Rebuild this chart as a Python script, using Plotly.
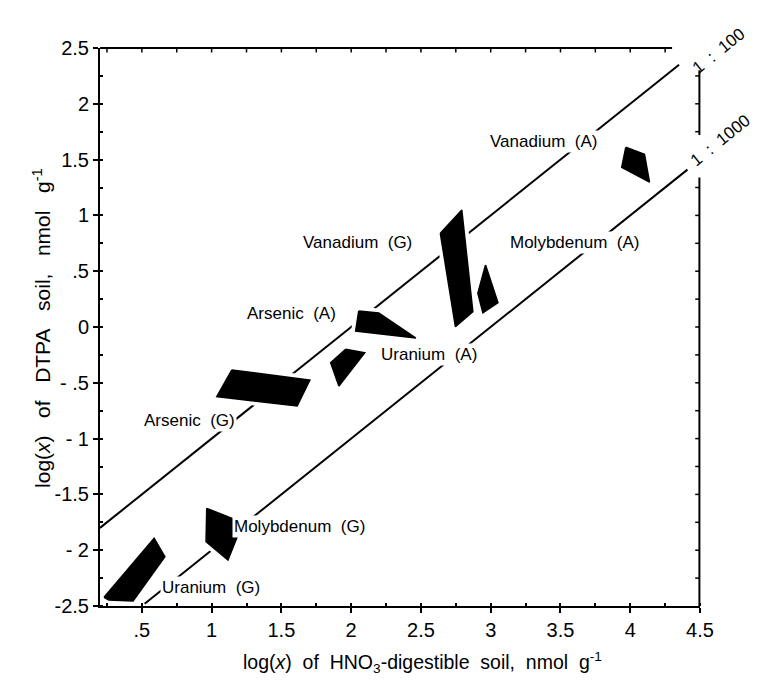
import plotly.graph_objects as go

# ---------------- data ----------------
x_tickvals = [0.5, 1, 1.5, 2, 2.5, 3, 3.5, 4, 4.5]
x_ticktext = [".5", "1", "1.5", "2", "2.5", "3", "3.5", "4", "4.5"]
y_tickvals = [2.5, 2, 1.5, 1, 0.5, 0, -0.5, -1, -1.5, -2, -2.5]
y_ticktext = ["2.5", "2", "1.5", "1", ".5", "0", "- .5", "- 1", "-1.5", "- 2", "-2.5"]
top_tickvals = [0.25, 0.5, 0.75, 1, 1.25, 1.5, 1.75, 2, 2.25, 2.5, 2.75, 3, 3.25, 3.5, 3.75, 4, 4.25]
right_tickvals = [-2.25, -2, -1.75, -1.5, -1.25, -1, -0.75, -0.5, -0.25, 0, 0.25, 0.5,
                  0.75, 1, 1.25, 1.75, 2, 2.25]

region_names = ["Vanadium (A)", "Vanadium (G)", "Molybdenum (A)", "Arsenic (A)",
                "Uranium (A)", "Arsenic (G)", "Molybdenum (G)", "Uranium (G)"]
region_x = [
    [3.968, 4.102, 4.138, 3.939],
    [2.639, 2.793, 2.872, 2.747],
    [2.963, 3.052, 2.944, 2.908],
    [2.054, 2.198, 2.464, 2.032],
    [1.960, 2.097, 1.912, 1.853],
    [1.145, 1.704, 1.613, 1.037],
    [0.965, 1.224, 1.117, 0.960],
    [0.229, 0.588, 0.665, 0.437, 0.263],
]
region_y = [
    [1.610, 1.548, 1.299, 1.431],
    [0.840, 1.048, 0.137, 0.003],
    [0.556, 0.218, 0.128, 0.302],
    [0.143, 0.125, -0.099, -0.036],
    [-0.200, -0.230, -0.529, -0.320],
    [-0.385, -0.475, -0.708, -0.625],
    [-1.625, -1.753, -2.088, -1.924],
    [-2.422, -1.894, -2.058, -2.455, -2.446],
]
label_x = [3.378, 2.047, 3.60, 1.572, 2.558, 0.838, 1.629, 0.996]
label_y = [1.658, 0.753, 0.753, 0.125, -0.242, -0.842, -1.792, -2.33]

ratio_names = ["1\u00a0\u00a0:\u00a0\u00a0100", "1\u00a0\u00a0:\u00a0\u00a01000"]
ratio_line_x = [[0.2, 4.35], [0.52, 4.41]]
ratio_line_y = [[-1.8, 2.35], [-2.48, 1.41]]
# label positions in paper fractions (they sit outside the plotting area)
ratio_label_px = [1.030, 1.034]
ratio_label_py = [0.994, 0.834]

# frame pieces (top border end, right border gaps) in data units
top_border_end = 4.3
right_border_segments = [(-2.5, 1.34), (1.72, 2.30)]

x_title = ("log(<i>x</i>)\u00a0\u00a0of\u00a0\u00a0HNO<sub>3</sub>-digestible\u00a0\u00a0soil,"
           "\u00a0\u00a0nmol\u00a0\u00a0g<sup>-1</sup>")
y_title = ("log(<i>x</i>)\u00a0\u00a0\u00a0of\u00a0\u00a0\u00a0DTPA\u00a0\u00a0\u00a0soil,"
           "\u00a0\u00a0\u00a0nmol\u00a0\u00a0\u00a0g<sup>-1</sup>")

FONT = "Liberation Sans, Arial, Helvetica, sans-serif"
X_RANGE = [0.2, 4.5]
Y_RANGE = [-2.5, 2.5]

fig = go.Figure()

# ratio lines
for lx, ly in zip(ratio_line_x, ratio_line_y):
    fig.add_trace(go.Scatter(x=lx, y=ly, mode="lines",
                             line=dict(color="black", width=2),
                             hoverinfo="skip", showlegend=False))

# white halos around regions
for rx, ry in zip(region_x, region_y):
    fig.add_trace(go.Scatter(x=rx + [rx[0]], y=ry + [ry[0]], mode="lines",
                             fill="toself", fillcolor="white",
                             line=dict(color="white", width=9),
                             hoverinfo="skip", showlegend=False))
# black regions
for name, rx, ry in zip(region_names, region_x, region_y):
    fig.add_trace(go.Scatter(x=rx + [rx[0]], y=ry + [ry[0]], mode="lines",
                             fill="toself", fillcolor="black",
                             line=dict(color="black", width=1.5),
                             name=name, showlegend=False))

shapes = []
frame_line = dict(color="black", width=2)
tick_line = dict(color="black", width=1.5)
# top border (stops before the 1:100 label)
shapes.append(dict(type="line", xref="x", yref="paper", x0=X_RANGE[0], x1=top_border_end,
                   y0=1, y1=1, line=frame_line, layer="above"))
# right border with gaps for the ratio labels
for y0, y1 in right_border_segments:
    shapes.append(dict(type="line", xref="paper", yref="paper", x0=0.999, x1=0.999,
                       y0=(y0 - Y_RANGE[0]) / (Y_RANGE[1] - Y_RANGE[0]),
                       y1=(y1 - Y_RANGE[0]) / (Y_RANGE[1] - Y_RANGE[0]),
                       line=frame_line, layer="above"))
# inward ticks on top and right
for v in top_tickvals:
    shapes.append(dict(type="line", xref="x", yref="paper", x0=v, x1=v, y0=1, y1=0.992,
                       line=tick_line, layer="above"))
for v in right_tickvals:
    yp = (v - Y_RANGE[0]) / (Y_RANGE[1] - Y_RANGE[0])
    shapes.append(dict(type="line", xref="paper", yref="paper", x0=0.999, x1=0.992,
                       y0=yp, y1=yp, line=tick_line, layer="above"))

annotations = []
for name, lx, ly in zip(region_names, label_x, label_y):
    annotations.append(dict(x=lx, y=ly, xref="x", yref="y",
                            text=name.replace(" ", "\u00a0\u00a0"), showarrow=False,
                            font=dict(family=FONT, size=17, color="black"),
                            bgcolor="white", borderpad=1))
for name, px, py in zip(ratio_names, ratio_label_px, ratio_label_py):
    annotations.append(dict(x=px, y=py, xref="paper", yref="paper", text=name,
                            xanchor="center", yanchor="middle",
                            showarrow=False, textangle=-39,
                            font=dict(family=FONT, size=17, color="black")))
annotations.append(dict(x=0.537, y=-0.102, xref="paper", yref="paper", text=x_title,
                        xanchor="center", yanchor="middle", showarrow=False,
                        font=dict(family=FONT, size=19.5, color="black")))
annotations.append(dict(x=-0.097, y=0.498, xref="paper", yref="paper", text=y_title,
                        xanchor="center", yanchor="middle", showarrow=False, textangle=-90,
                        font=dict(family=FONT, size=21, color="black")))

fig.update_layout(
    width=758, height=682,
    margin=dict(l=92, r=66, t=40, b=84),
    paper_bgcolor="white", plot_bgcolor="white",
    font=dict(family=FONT, color="black"),
    annotations=annotations,
    shapes=shapes,
    xaxis=dict(range=X_RANGE, showgrid=False, zeroline=False,
               showline=True, linecolor="black", linewidth=2,
               tickmode="array", tickvals=x_tickvals, ticktext=x_ticktext,
               ticks="outside", ticklen=5, tickwidth=1.5, tickcolor="black",
               tickfont=dict(family=FONT, size=20),
               minor=dict(dtick=0.25, ticks="inside", ticklen=3, tickcolor="black", showgrid=False)),
    yaxis=dict(range=Y_RANGE, showgrid=False, zeroline=False,
               showline=True, linecolor="black", linewidth=2,
               tickmode="array", tickvals=y_tickvals, ticktext=y_ticktext,
               ticks="outside", ticklen=5, tickwidth=1.5, tickcolor="black",
               tickfont=dict(family=FONT, size=20),
               minor=dict(dtick=0.25, ticks="inside", ticklen=3, tickcolor="black", showgrid=False)),
)

fig.write_html("out.html")
